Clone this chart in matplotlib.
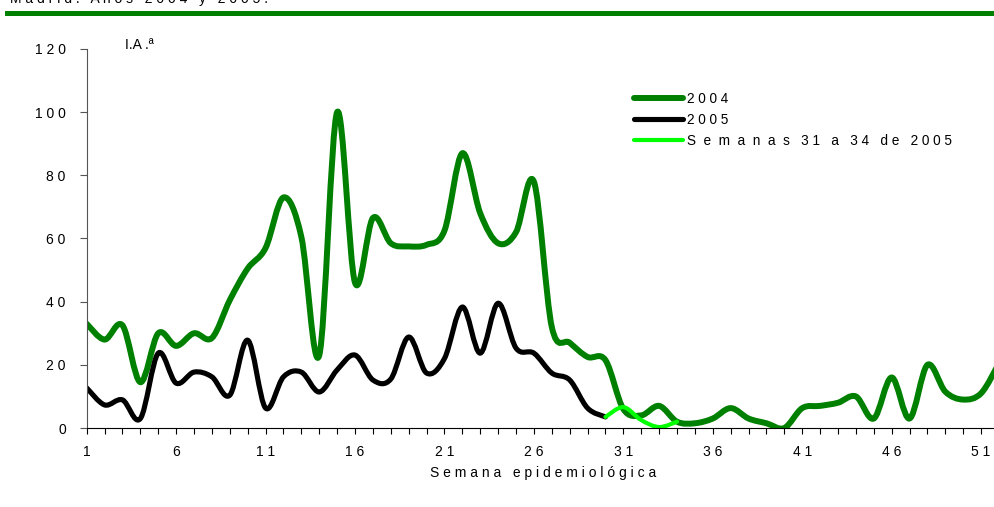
import numpy as np
import matplotlib.pyplot as plt
from matplotlib.path import Path
from matplotlib.patches import PathPatch, Rectangle
from matplotlib.lines import Line2D

plt.rcParams.update({
    'font.family': 'Liberation Sans',
    'font.size': 10,
})

# Incidencia acumulada semanal (I.A.) por semana epidemiológica
semanas_2004 = np.arange(1, 53)
ia_2004 = [33, 28, 32.5, 14.5, 30, 26, 30, 28.5, 40.5, 50.5,
           57, 73, 60.5, 23, 100, 46, 66.5, 58.5, 57.5, 58,
           62.5, 87, 68, 58.5, 62, 78, 32, 27, 22.5, 21.5,
           6, 4, 7, 2, 1.5, 3, 6.3, 3, 1.5, 0,
           6.3, 7, 8, 10, 3, 16, 3, 20, 11.5, 9,
           11, 20.5]

semanas_2005 = np.arange(1, 31)
ia_2005 = [12.7, 7.3, 8.9, 3, 23.7, 14.2, 17.7, 16.2, 10.4, 27.8,
           6.3, 16.2, 17.7, 11.4, 18.4, 23.1, 15.2, 15.5, 28.8, 17.4,
           22, 38.3, 23.7, 39.5, 25.3, 23.7, 17.4, 15.2, 6.3, 3.5]

semanas_provis = np.arange(30, 35)
ia_provis = [3.5, 6.6, 2.5, 0.3, 2.0]

VERDE = '#008000'
VERDE_CLARO = '#00FF00'


def curva_suave(x, y):
    # trazo suavizado tipo Excel: Bezier cubica entre puntos consecutivos
    pts = np.column_stack([x, y]).astype(float)
    n = len(pts)
    verts = [pts[0]]
    codes = [Path.MOVETO]
    for i in range(n - 1):
        p0 = pts[max(i - 1, 0)]
        p1 = pts[i]
        p2 = pts[i + 1]
        p3 = pts[min(i + 2, n - 1)]
        verts += [p1 + (p2 - p0) / 6, p2 - (p3 - p1) / 6, p2]
        codes += [Path.CURVE4] * 3
    return Path(verts, codes)


fig = plt.figure(figsize=(9.95, 5.07), dpi=100)
ax = fig.add_axes([86.7 / 995, 79 / 507, (999 - 86.7) / 995, (428 - 49) / 507])

series = [
    (semanas_2004, ia_2004, VERDE, 4.3, '2 0 0 4'),
    (semanas_2005, ia_2005, 'black', 3.7, '2 0 0 5'),
    (semanas_provis, ia_provis, VERDE_CLARO, 3.0,
     'S  e  m  a  n  a  s   3 1   a   3 4   d e   2 0 0 5'),
]
handles = []
for x, y, col, lw, lab in series:
    ax.add_patch(PathPatch(curva_suave(x, y), fill=False, edgecolor=col, lw=lw,
                           capstyle='round', joinstyle='round'))
    handles.append(Line2D([], [], color=col, lw=lw, solid_capstyle='round', label=lab))

ax.set_xlim(1, 52)
ax.set_ylim(0, 120)

ax.set_xticks(np.arange(1, 52, 5))
ax.set_xticklabels([' '.join(str(s)) for s in range(1, 52, 5)])
ax.set_xticks(np.arange(1, 53), minor=True)
ax.set_yticks(np.arange(0, 121, 20))
ax.set_yticklabels([' '.join(str(v)) for v in range(0, 121, 20)])

ax.tick_params(axis='x', which='both', direction='out', length=4, width=0.8, pad=8)
ax.tick_params(axis='y', direction='out', length=5, width=0.8, pad=10, color='#555555')

for s in ['top', 'right']:
    ax.spines[s].set_visible(False)
ax.spines['left'].set_color('#555555')
ax.spines['bottom'].set_color('black')

ax.set_xlabel('S e m a n a   e p i d e m i o l ó g i c a', labelpad=5)
fig.text(125 / 995, 1 - 45 / 507, 'I.A .ª', va='center', ha='left')

ax.legend(handles=handles, loc='upper left', frameon=False,
          bbox_to_anchor=(634 / 995, 1 - 92 / 507), bbox_transform=fig.transFigure,
          borderaxespad=0, borderpad=0, handlelength=3.6, handletextpad=0.3,
          labelspacing=0.5, prop={'size': 9.8})

# Cabecera: titulo recortado y filete verde
fig.text(10 / 995, 1 - 3 / 507, 'M a d r i d .   A ñ o s   2 0 0 4   y   2 0 0 5 .',
         va='baseline', ha='left', fontsize=10)
fig.add_artist(Rectangle((5 / 995, 1 - 16 / 507), 990 / 995, 5 / 507,
                         transform=fig.transFigure, color=VERDE, lw=0))

fig.savefig('out.png', dpi=100)
